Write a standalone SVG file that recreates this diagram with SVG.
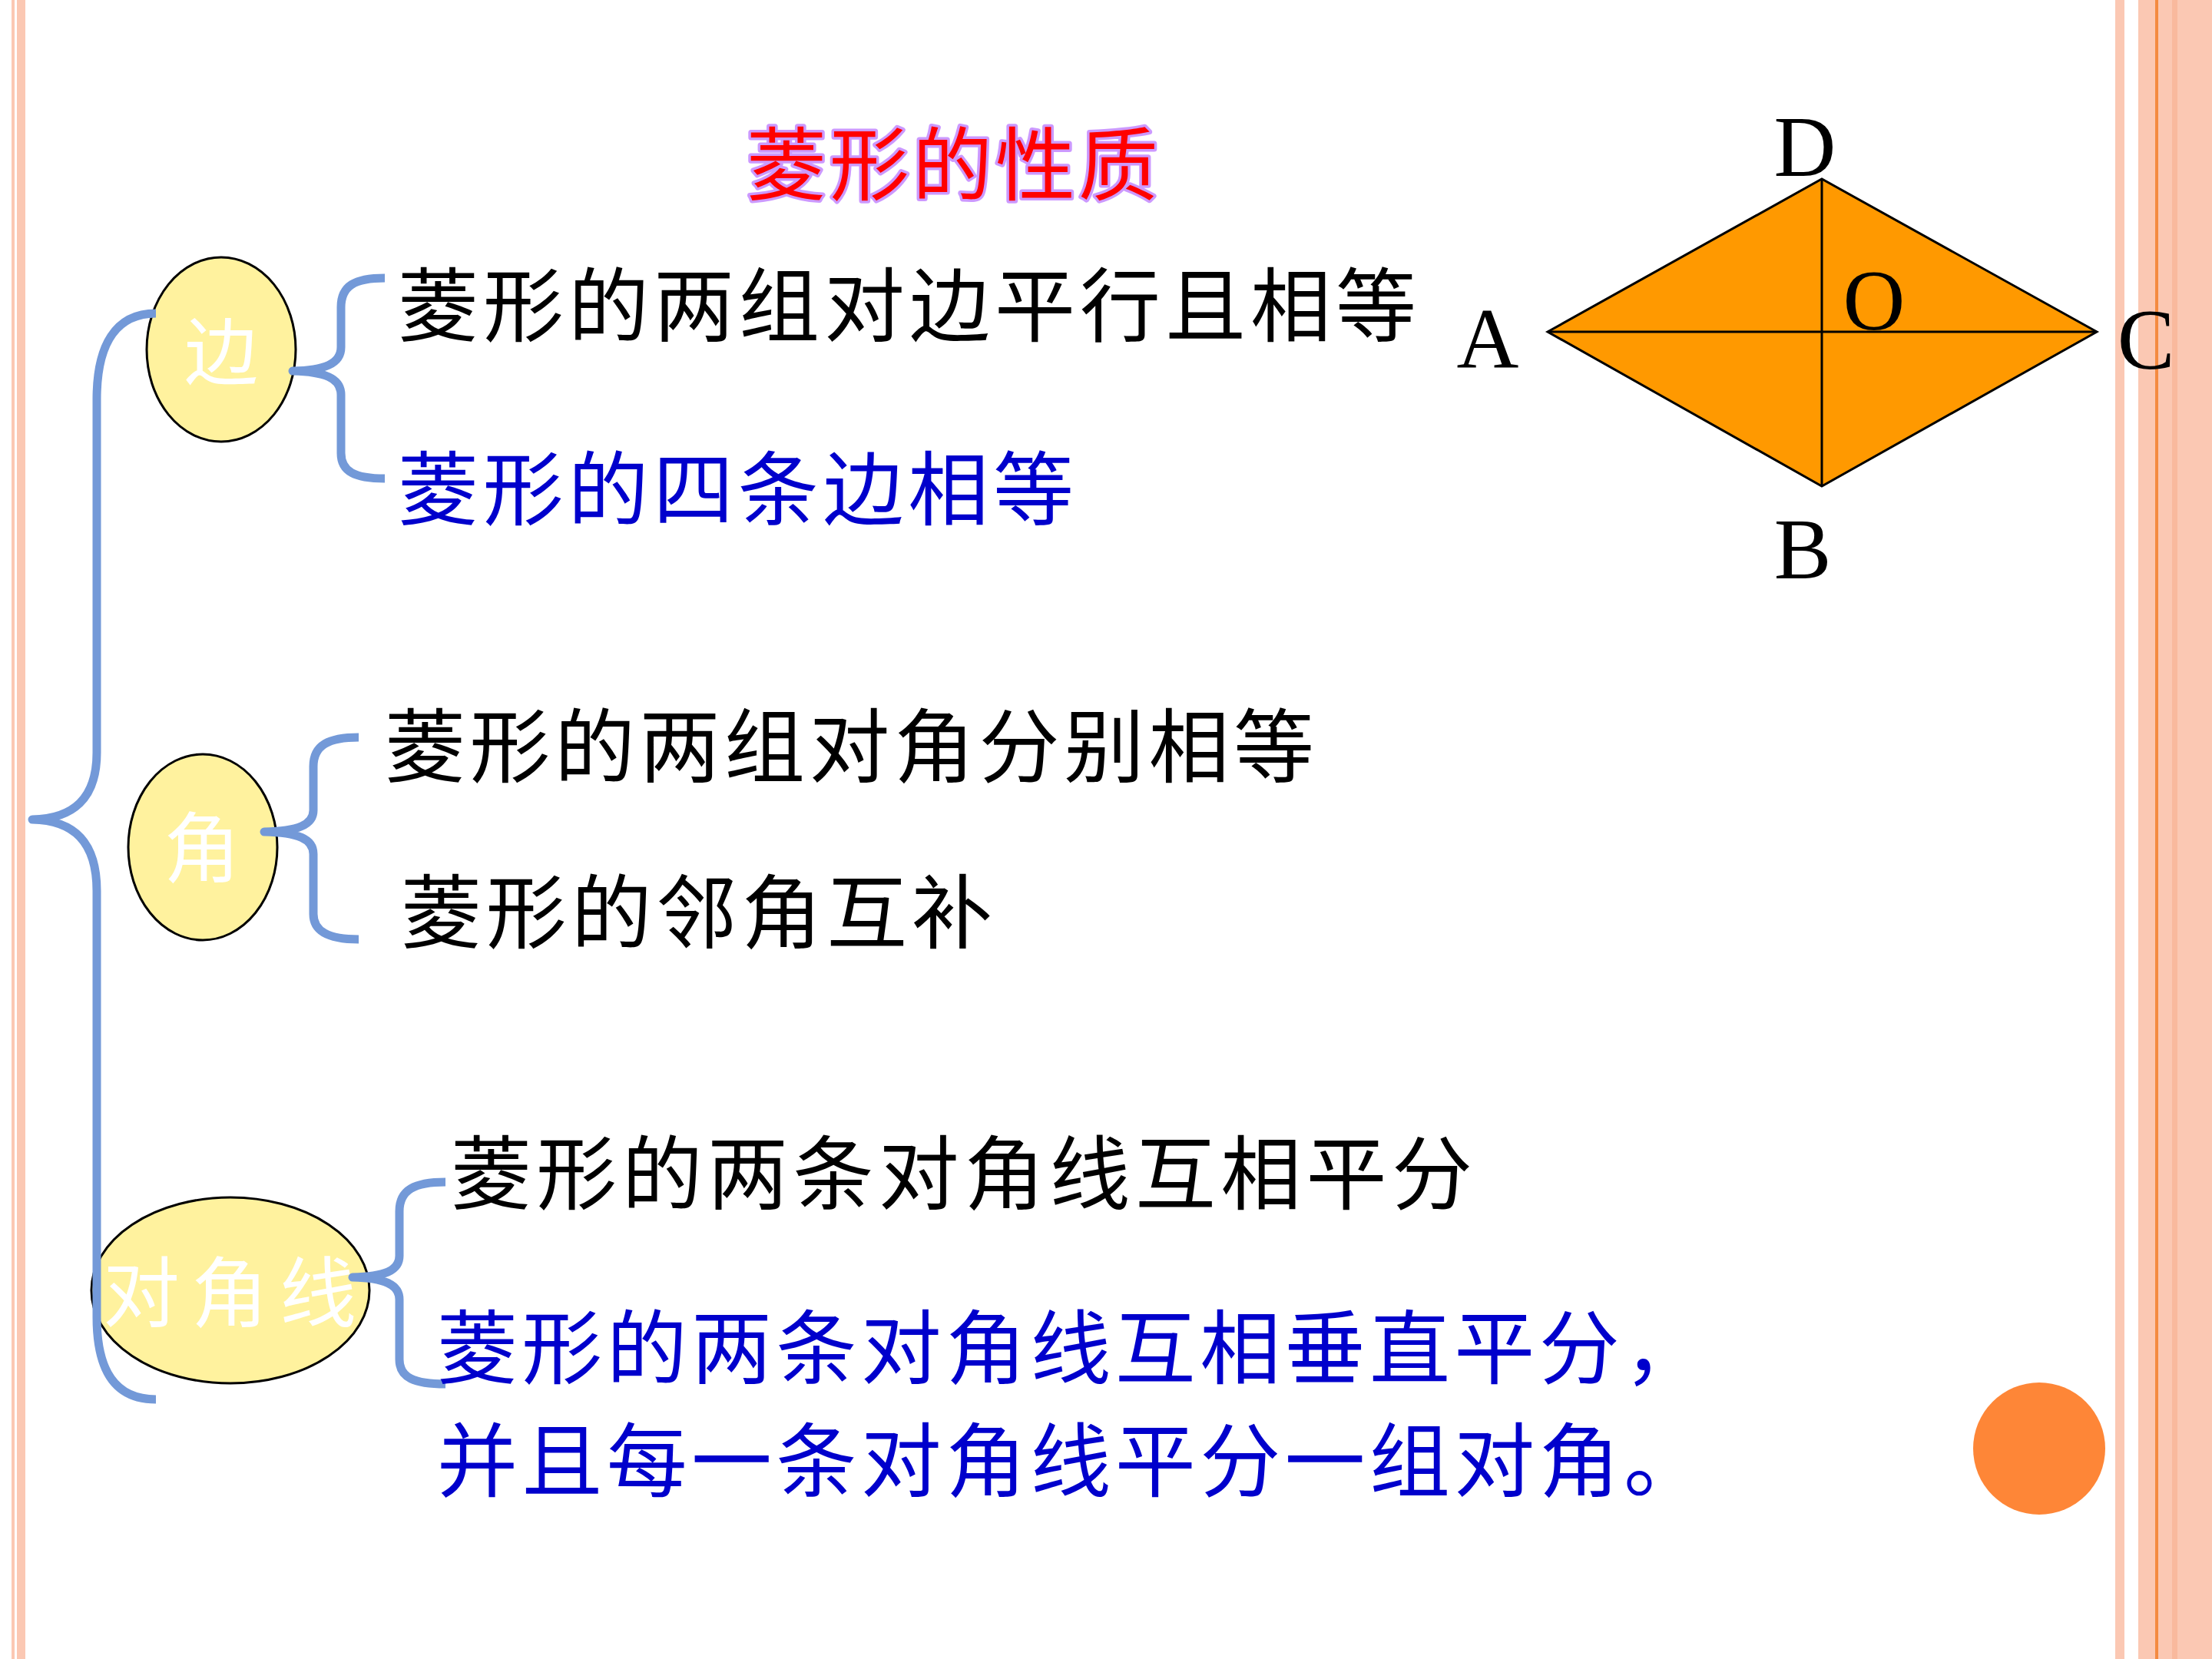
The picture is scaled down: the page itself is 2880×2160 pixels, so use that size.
<svg xmlns="http://www.w3.org/2000/svg" width="2880" height="2160" viewBox="0 0 2880 2160">
<defs>
<style>
.cjk{font-family:"Noto Sans CJK SC","Noto Sans CJK TC",sans-serif;}
.line{font-size:105px;}
.blk{fill:#000000;}
.blu{fill:#0000CC;}
.wht{fill:#FFFFFF;}
.node{fill:#FFF29E;stroke:#000000;stroke-width:3;}
.brace{fill:none;stroke:#7399D8;stroke-width:11;stroke-linecap:butt;stroke-linejoin:round;}
.lbl{font-family:"Liberation Serif","Times New Roman",serif;font-size:112px;fill:#000000;text-anchor:middle;}
.band{fill:#FBC8B3;}
</style>
</defs>
<rect x="0" y="0" width="2880" height="2160" fill="#FFFFFF"/>
<g id="border">
<rect class="band" x="15" y="0" width="4" height="2160"/>
<rect class="band" x="22" y="0" width="11" height="2160"/>
<rect class="band" x="2754" y="0" width="12" height="2160"/>
<rect class="band" x="2784" y="0" width="96" height="2160"/>
<rect x="2806" y="0" width="4" height="2160" fill="#F48A40"/>
<rect x="2828" y="0" width="7" height="2160" fill="#F9B99D"/>
</g>
<g id="title">
<text class="cjk" x="972" y="253" font-size="104" textLength="536" lengthAdjust="spacing" fill="#FF0000" stroke="#CC99FF" stroke-width="7" paint-order="stroke" stroke-linejoin="round">菱形的性质</text>
</g>
<g id="node-bian">
<ellipse class="node" cx="288" cy="455" rx="97" ry="120"/>
<text class="cjk wht" x="288" y="493" font-size="96" text-anchor="middle">边</text>
</g>
<g id="node-jiao">
<ellipse class="node" cx="264" cy="1103" rx="97" ry="121"/>
<text class="cjk wht" x="263" y="1141" font-size="100" text-anchor="middle">角</text>
</g>
<g id="node-duijiaoxian">
<ellipse class="node" cx="300" cy="1680" rx="181" ry="121"/>
<text class="cjk wht" x="134" y="1720" font-size="100" textLength="330" lengthAdjust="spacing">对角线</text>
</g>
<g id="connectors">
<path class="brace" d="M203,408 C150,408 126,450 126,520 L126,980 C126,1040 95,1066 42,1067 C95,1068 126,1095 126,1160 L126,1715 C126,1785 150,1822 203,1822"/>
<path class="brace" d="M501,362 C462,362 444,372 444,400 L444,452 C444,474 422,482 381,483 C422,484 444,492 444,514 L444,590 C444,614 462,623 501,623"/>
<path class="brace" d="M467,960 C428,960 408,970 408,998 L408,1055 C408,1074 388,1082 344,1083 C388,1084 408,1092 408,1112 L408,1190 C408,1213 428,1223 467,1223"/>
<path class="brace" d="M580,1539 C540,1539 520,1549 520,1577 L520,1635 C520,1655 500,1662 459,1663 C500,1664 520,1672 520,1692 L520,1770 C520,1794 540,1802 580,1802"/>
</g>
<g id="text-bian">
<text class="cjk line blk" x="518" y="436" textLength="1326" lengthAdjust="spacing">菱形的两组对边平行且相等</text>
<text class="cjk line blu" x="518" y="675" textLength="880" lengthAdjust="spacing">菱形的四条边相等</text>
</g>
<g id="text-jiao">
<text class="cjk line blk" x="501" y="1010" textLength="1210" lengthAdjust="spacing">菱形的两组对角分别相等</text>
<text class="cjk line blk" x="522" y="1226" textLength="770" lengthAdjust="spacing">菱形的邻角互补</text>
</g>
<g id="text-duijiaoxian">
<text class="cjk line blk" x="587" y="1566" textLength="1330" lengthAdjust="spacing">菱形的两条对角线互相平分</text>
<text class="cjk line blu" x="569" y="1793" textLength="1650" lengthAdjust="spacing">菱形的两条对角线互相垂直平分，</text>
<text class="cjk line blu" x="569" y="1940" textLength="1650" lengthAdjust="spacing">并且每一条对角线平分一组对角。</text>
</g>
<g id="rhombus">
<polygon points="2015,432 2372,233 2730,432 2372,633" fill="#FF9900" stroke="#000000" stroke-width="3" stroke-linejoin="miter"/>
<line x1="2015" y1="432" x2="2730" y2="432" stroke="#000000" stroke-width="3"/>
<line x1="2372" y1="233" x2="2372" y2="633" stroke="#000000" stroke-width="3"/>
<text class="lbl" x="2350" y="229">D</text>
<text class="lbl" x="1937" y="479">A</text>
<text class="lbl" x="2440" y="429">O</text>
<text class="lbl" x="2347" y="753">B</text>
<text class="lbl" x="2794" y="480">C</text>
</g>
<g id="dot">
<circle cx="2655" cy="1886" r="86" fill="#FE8637"/>
</g>
</svg>
